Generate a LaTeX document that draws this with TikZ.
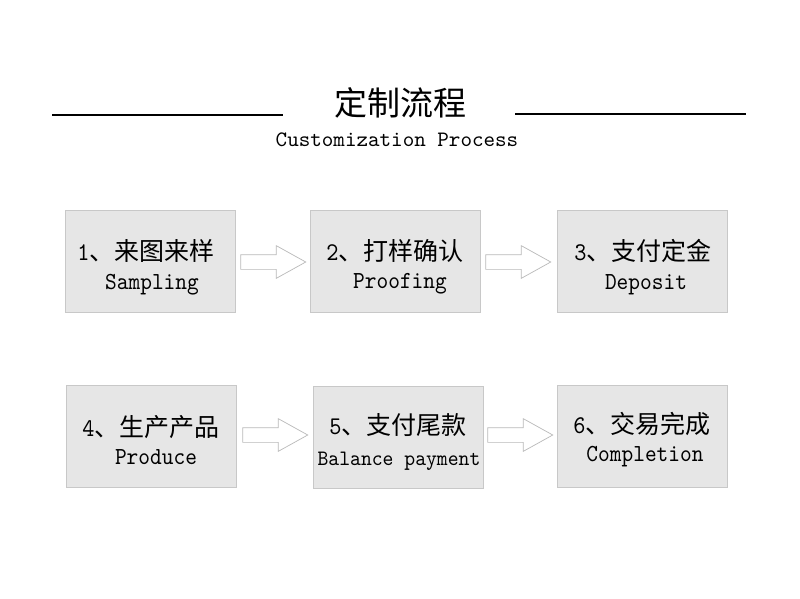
\documentclass[tikz,border=0pt]{standalone}
\usepackage{fontspec}
\newfontfamily\cjk{Noto Sans CJK SC}
\newfontfamily\monoA[Extension=.otf]{lmmono10-regular}
\newfontfamily\monoB[Extension=.otf,FakeStretch=0.91]{lmmono10-regular}
\newfontfamily\monoC[Extension=.otf,FakeStretch=0.94]{lmmono10-regular}
\usetikzlibrary{shapes.arrows,calc}
\definecolor{boxfill}{RGB}{230,230,230}
\definecolor{boxline}{RGB}{200,200,200}
\definecolor{arrline}{RGB}{185,185,185}
\tikzset{
  stepbox/.style={draw=boxline, fill=boxfill, line width=0.8pt, minimum width=170pt, minimum height=102pt, inner sep=0pt},
  cnline/.style={anchor=base, inner sep=0pt, font=\fontsize{25}{25}\selectfont},
  enline/.style={anchor=base, inner sep=0pt, font=\monoB\fontsize{24.5}{24.5}\selectfont},
  blockarrow/.style={single arrow, draw=arrline, fill=white, line width=0.7pt, anchor=tail,
    minimum height=65pt, text height=0pt, text depth=0pt, inner xsep=0pt, inner ysep=7pt,
    single arrow head extend=9pt, single arrow tip angle=58},
  rule/.style={line width=1.8pt, black}
}
\newcommand\lab[2]{{\monoB\fontsize{25.5}{25.5}\selectfont #1}{\cjk\fontsize{25}{25}\selectfont 、#2}}
\begin{document}
\begin{tikzpicture}[x=1pt,y=-1pt]
\useasboundingbox[fill=white] (0,0) rectangle (800,598);
% heading
\node[anchor=base, inner sep=0pt, font=\cjk\fontsize{33}{33}\selectfont] (title) at (400,115) {定制流程};
\node[anchor=base, inner sep=0pt, font=\monoA\fontsize{22}{22}\selectfont] (subtitle) at (397,146) {Customization Process};
\coordinate (l1) at (52,115); \coordinate (l2) at (283,115);
\coordinate (r1) at (515,114); \coordinate (r2) at (746,114);
\draw[rule] (l1) -- (l2);
\draw[rule] (r1) -- (r2);
% boxes
\node[stepbox] (b1) at (150,261) {};
\node[stepbox] (b2) at (395,261) {};
\node[stepbox] (b3) at (642,261) {};
\node[stepbox] (b4) at (151,436) {};
\node[stepbox] (b5) at (398,437) {};
\node[stepbox] (b6) at (642,436) {};
% texts
\node[cnline] (t1a) at ($(b1.center)+(-4,-1)$) {\lab{1}{来图来样}};
\node[enline] (t1b) at ($(b1.center)+(2,28)$) {Sampling};
\node[cnline] (t2a) at ($(b2.center)+(0,-1)$) {\lab{2}{打样确认}};
\node[enline] (t2b) at ($(b2.center)+(5,27)$) {Proofing};
\node[cnline] (t3a) at ($(b3.center)+(1,-1)$) {\lab{3}{支付定金}};
\node[enline] (t3b) at ($(b3.center)+(4,28)$) {Deposit};
\node[cnline] (t4a) at ($(b4.center)+(0,0)$) {\lab{4}{生产产品}};
\node[enline] (t4b) at ($(b4.center)+(5,28)$) {Produce};
\node[cnline] (t5a) at ($(b5.center)+(0,-3)$) {\lab{5}{支付尾款}};
\node[anchor=base, inner sep=0pt, font=\monoC\fontsize{22}{22}\selectfont] (t5b) at ($(b5.center)+(1,28)$) {Balance payment};
\node[cnline] (t6a) at ($(b6.center)+(0,-3)$) {\lab{6}{交易完成}};
\node[enline] (t6b) at ($(b6.center)+(3,25)$) {Completion};
% arrows
\node[blockarrow] (a1) at ($(b1.east)+(5,1)$) {};
\node[blockarrow] (a2) at ($(b2.east)+(5,1)$) {};
\node[blockarrow] (a3) at ($(b4.east)+(6,-1)$) {};
\node[blockarrow] (a4) at ($(b5.east)+(4,-2)$) {};
\end{tikzpicture}
\end{document}
